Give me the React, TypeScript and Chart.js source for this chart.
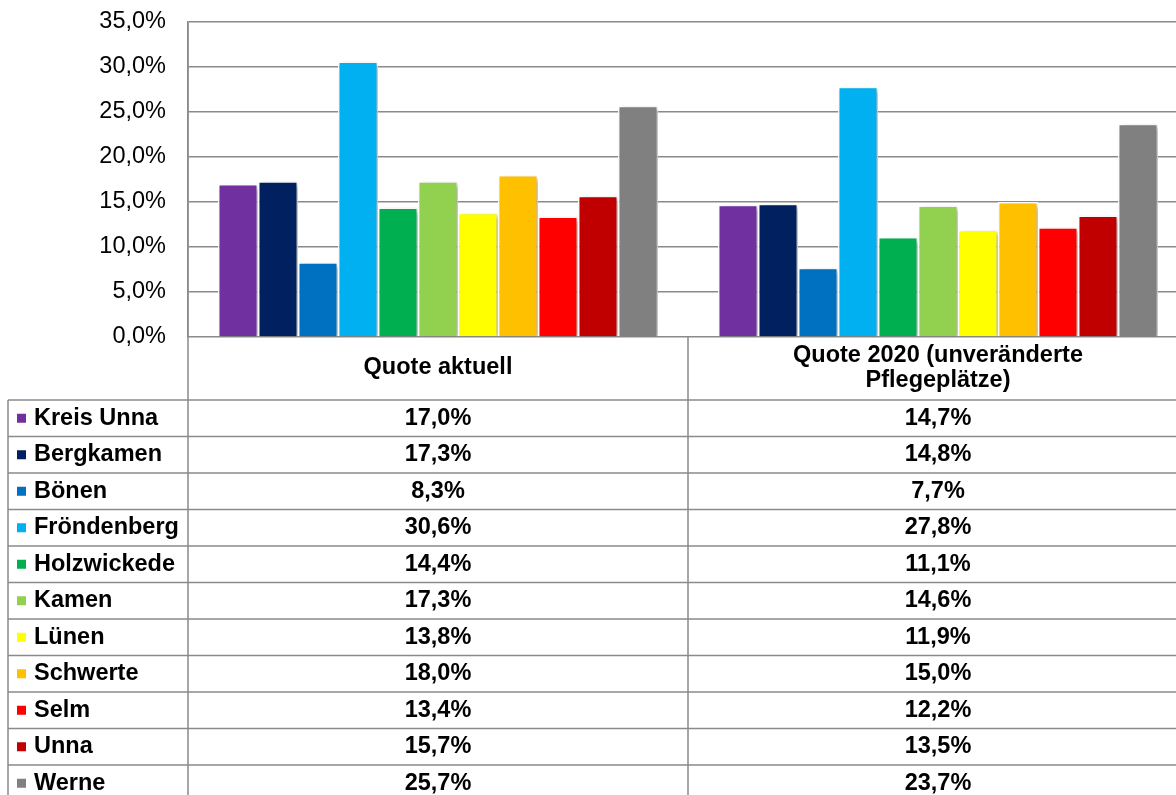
import React, { useEffect, useRef } from "react";
import { Chart, registerables } from "chart.js";

Chart.register(...registerables);

const categories = ["Quote aktuell", ["Quote 2020 (unveränderte", "Pflegeplätze)"]];
const cities = [
  "Kreis Unna",
  "Bergkamen",
  "Bönen",
  "Fröndenberg",
  "Holzwickede",
  "Kamen",
  "Lünen",
  "Schwerte",
  "Selm",
  "Unna",
  "Werne",
];
const quoteAktuell = [17.0, 17.3, 8.3, 30.6, 14.4, 17.3, 13.8, 18.0, 13.4, 15.7, 25.7];
const quote2020 = [14.7, 14.8, 7.7, 27.8, 11.1, 14.6, 11.9, 15.0, 12.2, 13.5, 23.7];
const colors = [
  "#7030A0",
  "#002060",
  "#0070C0",
  "#00B0F0",
  "#00B050",
  "#92D050",
  "#FFFF00",
  "#FFC000",
  "#FF0000",
  "#C00000",
  "#808080",
];

const FONT = "'Liberation Sans', Arial, sans-serif";
const LINE = "#8a8a8a";
const fmt = (v: number) => v.toFixed(1).replace(".", ",") + "%";

const shadowPlugin = {
  id: "barShadow",
  beforeDatasetsDraw(chart: any) {
    const ctx = chart.ctx;
    ctx.save();
    ctx.shadowColor = "rgba(0,0,0,0.35)";
    ctx.shadowBlur = 5;
    ctx.shadowOffsetX = 2;
    ctx.shadowOffsetY = 2;
  },
  afterDatasetsDraw(chart: any) {
    chart.ctx.restore();
  },
};

const tablePlugin = {
  id: "dataTable",
  afterDraw(chart: any) {
    const ctx = chart.ctx;
    const area = chart.chartArea;
    const xs = chart.scales.x;
    const W = 1176;
    const H = 795;
    const left = 8;
    const axisX = area.left;
    const top = area.bottom;
    const rowTop = 400;
    const rowH = 36.5;
    const midX = (xs.getPixelForValue(0) + xs.getPixelForValue(1)) / 2;

    ctx.save();
    ctx.strokeStyle = LINE;
    ctx.lineWidth = 1.5;
    ctx.beginPath();
    for (let i = 0; i < cities.length; i++) {
      const y = rowTop + rowH * i;
      ctx.moveTo(left, y);
      ctx.lineTo(W, y);
    }
    ctx.moveTo(left, rowTop);
    ctx.lineTo(left, H);
    ctx.moveTo(axisX, area.top);
    ctx.lineTo(axisX, H);
    ctx.moveTo(midX, top);
    ctx.lineTo(midX, H);
    ctx.stroke();

    ctx.fillStyle = "#000";
    ctx.font = `bold 23.5px ${FONT}`;
    ctx.textBaseline = "middle";
    ctx.textAlign = "center";
    categories.forEach((c, i) => {
      const cx = xs.getPixelForValue(i);
      if (Array.isArray(c)) {
        ctx.fillText(c[0], cx, 356);
        ctx.fillText(c[1], cx, 381);
      } else {
        ctx.fillText(c, cx, 368);
      }
    });

    cities.forEach((name, i) => {
      const cy = rowTop + rowH * i + rowH / 2;
      ctx.fillStyle = colors[i];
      ctx.fillRect(17, cy - 4.5, 9, 9);
      ctx.fillStyle = "#000";
      ctx.textAlign = "left";
      ctx.fillText(name, 34, cy);
      ctx.textAlign = "center";
      ctx.fillText(fmt(quoteAktuell[i]), xs.getPixelForValue(0), cy);
      ctx.fillText(fmt(quote2020[i]), xs.getPixelForValue(1), cy);
    });
    ctx.restore();
  },
};

export default function App() {
  const ref = useRef<HTMLCanvasElement>(null);

  useEffect(() => {
    if (!ref.current) return;
    const chart = new Chart(ref.current, {
      type: "bar",
      data: {
        labels: categories.map((c) => (Array.isArray(c) ? c.join(" ") : c)),
        datasets: cities.map((name, i) => ({
          label: name,
          data: [quoteAktuell[i], quote2020[i]],
          backgroundColor: colors[i],
          borderColor: "#ffffff",
          borderWidth: 1.5,
          categoryPercentage: 0.88,
          barPercentage: 1,
        })),
      },
      options: {
        responsive: false,
        animation: false,
        devicePixelRatio: 1,
        layout: { padding: { top: 22, left: 0, right: 2, bottom: 458 } },
        plugins: {
          legend: { display: false },
          tooltip: { enabled: false },
        },
        scales: {
          x: { display: false },
          y: {
            min: 0,
            max: 35,
            ticks: {
              stepSize: 5,
              padding: 0,
              color: "#000",
              font: { family: FONT, size: 23.5 },
              callback: (v: any) => fmt(Number(v)),
            },
            grid: {
              color: LINE,
              lineWidth: 1.5,
              drawTicks: true,
              tickLength: 22,
              tickColor: "rgba(0,0,0,0)",
            },
            border: { display: true, color: LINE, width: 1.5 },
            afterFit: (scale: any) => {
              scale.width = 188;
            },
          },
        },
      },
      plugins: [shadowPlugin, tablePlugin],
    });
    return () => chart.destroy();
  }, []);

  return (
    <div
      style={{
        position: "absolute",
        left: 0,
        top: 0,
        width: 1176,
        height: 795,
        overflow: "hidden",
        background: "#fff",
      }}
    >
      <canvas ref={ref} width={1190} height={795} style={{ width: 1190, height: 795, display: "block" }} />
    </div>
  );
}
